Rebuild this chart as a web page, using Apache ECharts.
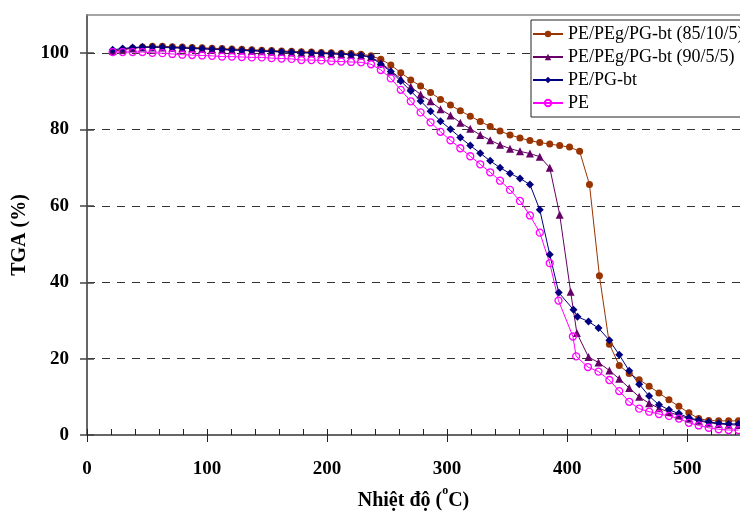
<!DOCTYPE html>
<html>
<head>
<meta charset="utf-8">
<script src="https://cdn.jsdelivr.net/npm/echarts@6/dist/echarts.min.js"></script>
<style>html,body{margin:0;padding:0;background:#fff}#c{width:740px;height:512px}</style>
</head>
<body>
<div id="c"></div>
<script>
// Temperatures (°C) of the regular sampling grid
const tempGrid = [21.4, 29.7, 38.0, 46.2, 54.5, 62.8, 71.1, 79.4, 87.6, 95.9, 104.2, 112.5, 120.7, 129.0, 137.3, 145.6, 153.8, 162.1, 170.4, 178.6, 187.0, 195.2, 203.5, 211.8, 220.0, 228.3, 236.6, 244.8, 253.1, 261.4, 269.7, 277.9, 286.2, 294.5, 302.8, 311.0, 319.3, 327.6, 335.9, 344.1, 352.4, 360.7, 369.0, 377.2, 385.5, 393.8, 402.0, 410.4, 418.6, 426.9, 435.2, 443.4, 451.7, 460.0, 468.3, 476.5, 484.8, 493.1, 501.4, 509.6, 517.9, 526.2, 534.5, 542.7];

// Irregular temperatures near the steep drops
const tempExtraPurple = [402.9, 408.1, 417.8, 426.1];
const tempExtraNavy = [393.0, 405.3, 408.6, 417.8, 426.1];
const tempExtraPink = [392.8, 404.8, 407.5, 417.3, 426.1];

const seriesNames = ['PE/PEg/PG-bt (85/10/5)', 'PE/PEg/PG-bt (90/5/5)', 'PE/PG-bt', 'PE'];

const tgaBrown = [100.5, 100.9, 101.3, 101.6, 101.8, 101.8, 101.7, 101.6, 101.5, 101.4, 101.3, 101.2, 101.1, 101.0, 100.9, 100.8, 100.7, 100.6, 100.5, 100.4, 100.3, 100.2, 100.1, 100.0, 99.9, 99.7, 99.3, 98.4, 96.9, 94.9, 93.0, 91.4, 89.7, 87.9, 86.4, 84.9, 83.5, 82.1, 80.8, 79.6, 78.6, 77.8, 77.1, 76.6, 76.2, 75.8, 75.4, 74.3, 65.6, 41.7, 23.8, 18.2, 16.1, 14.5, 12.8, 11.0, 9.2, 7.5, 5.8, 4.3, 3.8, 3.7, 3.7, 3.7];

const tgaPurple = [100.6, 101.0, 101.3, 101.5, 101.5, 101.5, 101.4, 101.3, 101.2, 101.1, 101.0, 100.9, 100.8, 100.7, 100.6, 100.5, 100.4, 100.3, 100.2, 100.1, 100.0, 99.9, 99.8, 99.7, 99.6, 99.4, 99.0, 97.5, 95.4, 93.3, 91.2, 89.2, 87.4, 85.3, 83.7, 81.8, 80.2, 78.6, 77.2, 76.0, 75.0, 74.3, 73.7, 72.9, 70.0, 57.7, 37.5, 26.7, 20.4, 19.0, 16.9, 14.7, 12.3, 10.0, 8.3, 7.0, 6.0, 5.1, 4.3, 3.7, 3.2, 2.9, 2.7, 2.6];

const tgaNavy = [100.9, 101.2, 101.5, 101.6, 101.6, 101.6, 101.5, 101.4, 101.3, 101.2, 101.1, 101.0, 100.9, 100.8, 100.7, 100.6, 100.5, 100.4, 100.3, 100.2, 100.1, 100.0, 99.9, 99.8, 99.6, 99.4, 99.0, 97.1, 95.2, 92.7, 90.1, 87.5, 84.8, 82.2, 80.1, 77.9, 75.8, 73.8, 71.8, 70.0, 68.5, 67.2, 65.6, 59.0, 47.3, 37.3, 32.8, 31.0, 29.7, 28.0, 24.8, 21.0, 16.8, 13.3, 10.2, 7.9, 6.6, 5.6, 4.5, 3.9, 3.4, 3.1, 2.9, 2.9];

const tgaPink = [100.3, 100.3, 100.3, 100.3, 100.1, 100.0, 99.8, 99.6, 99.5, 99.4, 99.3, 99.1, 99.1, 99.0, 98.9, 98.9, 98.7, 98.6, 98.5, 98.2, 98.2, 98.1, 97.9, 97.8, 97.7, 97.6, 97.1, 95.6, 93.4, 90.4, 87.4, 84.5, 81.9, 79.4, 77.2, 75.1, 73.0, 70.9, 68.8, 66.6, 64.2, 61.3, 57.5, 53.0, 45.0, 35.2, 25.8, 20.6, 17.8, 16.6, 14.4, 11.5, 8.7, 6.9, 6.1, 5.5, 5.0, 4.3, 3.2, 2.5, 1.9, 1.5, 1.3, 1.3];

const yTicks = [0, 20, 40, 60, 80, 100];
const xTicksMajor = [0, 100, 200, 300, 400, 500];

const tempBrown = tempGrid.slice();
const tempPurple = tempGrid.slice(0, 46).concat(tempExtraPurple, tempGrid.slice(50));
const tempNavy = tempGrid.slice(0, 45).concat(tempExtraNavy, tempGrid.slice(50));
const tempPink = tempGrid.slice(0, 45).concat(tempExtraPink, tempGrid.slice(50));

function pairs(t, v) { return t.map((x, i) => [x, v[i]]); }

const FONT = 'Liberation Serif';
const chart = echarts.init(document.getElementById('c'), null, { renderer: 'canvas' });

const lbl = { fontFamily: FONT, fontSize: 19, fontWeight: 'bold', color: '#000' };

chart.setOption({
  animation: false,
  backgroundColor: '#fff',
  grid: { left: 87, right: 0, top: 15, bottom: 77, containLabel: false, outerBoundsMode: 'none' },
  legend: {
    orient: 'vertical', left: 531, top: 20,
    itemWidth: 30, itemHeight: 8, itemGap: 5,
    padding: [5, 200, 5, 1],
    borderColor: '#222', borderWidth: 1, backgroundColor: '#fff',
    textStyle: { fontFamily: FONT, fontSize: 18, color: '#000' },
    data: seriesNames
  },
  xAxis: [
    {
      type: 'value', min: 0, max: 544, interval: 100, position: 'bottom',
      axisLine: { show: true, onZero: false, lineStyle: { color: '#666', width: 2 } },
      axisTick: { show: true, inside: false, length: 7, customValues: xTicksMajor, lineStyle: { color: '#222', width: 1 } },
      axisLabel: Object.assign({ margin: 25, customValues: xTicksMajor }, lbl),
      splitLine: { show: false },
      name: '{t|Nhiệt độ (}{s|o}{t|C)}',
      nameLocation: 'middle', nameGap: 50,
      nameTextStyle: {
        rich: {
          t: { fontFamily: FONT, fontSize: 20, fontWeight: 'bold', color: '#000', lineHeight: 26, verticalAlign: 'bottom' },
          s: { fontFamily: FONT, fontSize: 12, fontWeight: 'bold', color: '#000', lineHeight: 12, verticalAlign: 'top' }
        }
      }
    },
    {
      type: 'value', min: 0, max: 544, interval: 20, position: 'bottom',
      axisLine: { show: false, onZero: false },
      axisTick: { show: true, inside: true, length: 6, lineStyle: { color: '#222', width: 1 } },
      axisLabel: { show: false },
      splitLine: { show: false }
    },
    {
      type: 'value', min: 0, max: 544, position: 'top',
      axisLine: { show: true, onZero: false, lineStyle: { color: '#888', width: 1.5 } },
      axisTick: { show: false }, axisLabel: { show: false }, splitLine: { show: false }
    }
  ],
  yAxis: [
    {
      type: 'value', min: 0, max: 110, interval: 20, position: 'left',
      axisLine: { show: true, onZero: false, lineStyle: { color: '#666', width: 2 } },
      axisTick: { show: true, inside: false, length: 7, customValues: yTicks, lineStyle: { color: '#444', width: 1.5 } },
      axisLabel: Object.assign({ margin: 18, customValues: yTicks }, lbl),
      splitLine: { show: true, lineStyle: { color: '#333', width: 1, type: [8, 7] } },
      name: 'TGA (%)', nameLocation: 'middle', nameGap: 53, nameRotate: 90,
      nameTextStyle: { fontFamily: FONT, fontSize: 20, fontWeight: 'bold', color: '#000', padding: [0, 20, 0, 0] }
    },
    {
      type: 'value', min: 0, max: 110, interval: 20, position: 'left',
      axisLine: { show: false, onZero: false },
      axisTick: { show: true, inside: true, length: 7, customValues: yTicks, lineStyle: { color: '#444', width: 1.5 } },
      axisLabel: { show: false },
      splitLine: { show: false }
    }
  ],
  series: [
    {
      name: seriesNames[0], type: 'line', data: pairs(tempBrown, tgaBrown),
      symbol: 'circle', symbolSize: 7,
      lineStyle: { color: '#993300', width: 1 }, itemStyle: { color: '#993300' }
    },
    {
      name: seriesNames[1], type: 'line', data: pairs(tempPurple, tgaPurple),
      symbol: 'triangle', symbolSize: 8,
      lineStyle: { color: '#660066', width: 1 }, itemStyle: { color: '#660066' }
    },
    {
      name: seriesNames[2], type: 'line', data: pairs(tempNavy, tgaNavy),
      symbol: 'diamond', symbolSize: 8,
      lineStyle: { color: '#000080', width: 1 }, itemStyle: { color: '#000080' }
    },
    {
      name: seriesNames[3], type: 'line', data: pairs(tempPink, tgaPink),
      symbol: 'circle', symbolSize: 7,
      lineStyle: { color: '#FF00FF', width: 1 },
      itemStyle: { color: 'rgba(255,255,255,0)', borderColor: '#FF00FF', borderWidth: 1.3 }
    }
  ]
});
</script>
</body>
</html>
